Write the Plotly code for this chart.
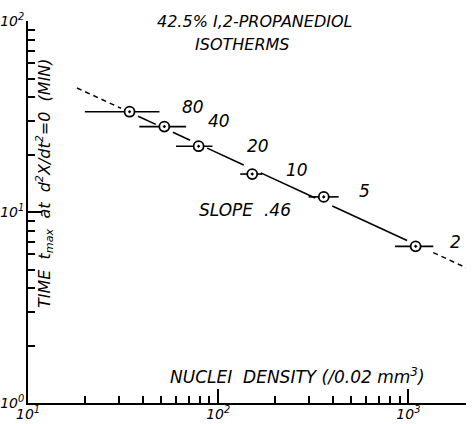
import numpy as np
import plotly.graph_objects as go

# ---------------- data ----------------
nuclei_density = [34.2, 52.1, 78.9, 151, 359, 1092]
density_low = [19.9, 38.5, 60.0, 130.6, 299, 851]
density_high = [49.1, 67.8, 93.3, 170.6, 430, 1352]
t_max = [33.5, 28.0, 22.1, 15.8, 12.0, 6.61]
isotherm_labels = ["80", "40", "20", "10", "5", "2"]

fit_slope = -0.46
fit_anchor_x = 18.1
fit_anchor_y = 44.6
fit_x_max = 2100

x_tick_vals = [10, 100, 1000]
x_tick_text = ["10<sup>1</sup>", "10<sup>2</sup>", "10<sup>3</sup>"]
y_tick_vals = [1, 10, 100]
y_tick_text = ["10<sup>0</sup>", "10<sup>1</sup>", "10<sup>2</sup>"]

# ---------------- style ----------------
FONT = "DejaVu Sans"
gap = 10 ** 0.045
label_shift = [(63, 5), (55, 6), (59, 0), (45, 4), (41, 6), (40, 4)]


def fit(x):
    x = np.asarray(x, dtype=float)
    return fit_anchor_y * (x / fit_anchor_x) ** fit_slope


x = np.array(nuclei_density, dtype=float)
y = np.array(t_max, dtype=float)
lo = np.array(density_low, dtype=float)
hi = np.array(density_high, dtype=float)

fig = go.Figure()

# dashed extensions of the fitted line
for xs in ([fit_anchor_x, x[0] / gap], [hi[-1], fit_x_max]):
    xx = np.geomspace(xs[0], xs[1], 20)
    fig.add_trace(go.Scatter(x=xx, y=fit(xx), mode="lines",
                             line=dict(color="black", width=1.5, dash="5px,4px"),
                             showlegend=False, hoverinfo="skip"))

# solid fitted line between points, interrupted near each circle
seg_x, seg_y = [], []
for i in range(len(x) - 1):
    xx = np.geomspace(x[i] * gap, x[i + 1] / gap, 10)
    seg_x += list(xx) + [None]
    seg_y += list(fit(xx)) + [None]
fig.add_trace(go.Scatter(x=seg_x, y=seg_y, mode="lines",
                         line=dict(color="black", width=1.6),
                         showlegend=False, hoverinfo="skip"))

# data points with horizontal bars
fig.add_trace(go.Scatter(
    x=x, y=y, mode="markers",
    marker=dict(symbol="circle-dot", size=10, color="white",
                line=dict(color="black", width=1.8)),
    error_x=dict(type="data", symmetric=False, array=hi - x, arrayminus=x - lo,
                 width=0, thickness=1.6, color="black"),
    showlegend=False, hoverinfo="skip"))

annos = []
for xi, yi, lab, (dx, dy) in zip(x, y, isotherm_labels, label_shift):
    annos.append(dict(x=np.log10(xi), y=np.log10(yi), xref="x", yref="y",
                      text=lab, showarrow=False, xshift=dx, yshift=dy,
                      font=dict(family=FONT, size=17, style="italic", color="black")))


def P(px, py):
    return (px - 28) / 438, (403 - py) / 382


for txt, (px, py), ang, sz in [
    ("42.5% I,2-PROPANEDIOL", (254, 21), 0, 16),
    ("ISOTHERMS", (242, 45), 0, 16),
    ("SLOPE  .46", (245, 210), 0, 17),
    ("NUCLEI  DENSITY (/0.02 mm<sup>3</sup>)", (297, 376), 0, 17),
    ("TIME  t<sub>max</sub>  at  d<sup>2</sup>X/dt<sup>2</sup>=0  (MIN)", (45, 183), -90, 16),
]:
    xp, yp = P(px, py)
    annos.append(dict(x=xp, y=yp, xref="paper", yref="paper", text=txt,
                      showarrow=False, textangle=ang, xanchor="center", yanchor="middle",
                      font=dict(family=FONT, size=sz, style="italic", color="black")))

tickfont = dict(family=FONT, size=14, style="italic", color="black")
axis_common = dict(type="log", showgrid=False, zeroline=False, showline=True,
                   linecolor="black", linewidth=2, ticks="inside", ticklen=14,
                   tickwidth=2, tickcolor="black", tickfont=tickfont, mirror=False,
                   minor=dict(ticks="inside", ticklen=7, tickwidth=1.6,
                              tickcolor="black", dtick="D1", showgrid=False),
                   automargin=False)

fig.update_layout(
    width=473, height=424,
    margin=dict(l=28, r=7, t=21, b=21),
    paper_bgcolor="white", plot_bgcolor="white",
    xaxis=dict(range=[1, 3.303], tickvals=x_tick_vals, ticktext=x_tick_text,
               ticklabelstandoff=-3, **axis_common),
    yaxis=dict(range=[0, 2], tickvals=y_tick_vals, ticktext=y_tick_text,
               ticklabelstandoff=-1, **axis_common),
    annotations=annos,
    showlegend=False,
)

fig.write_html("out.html")
